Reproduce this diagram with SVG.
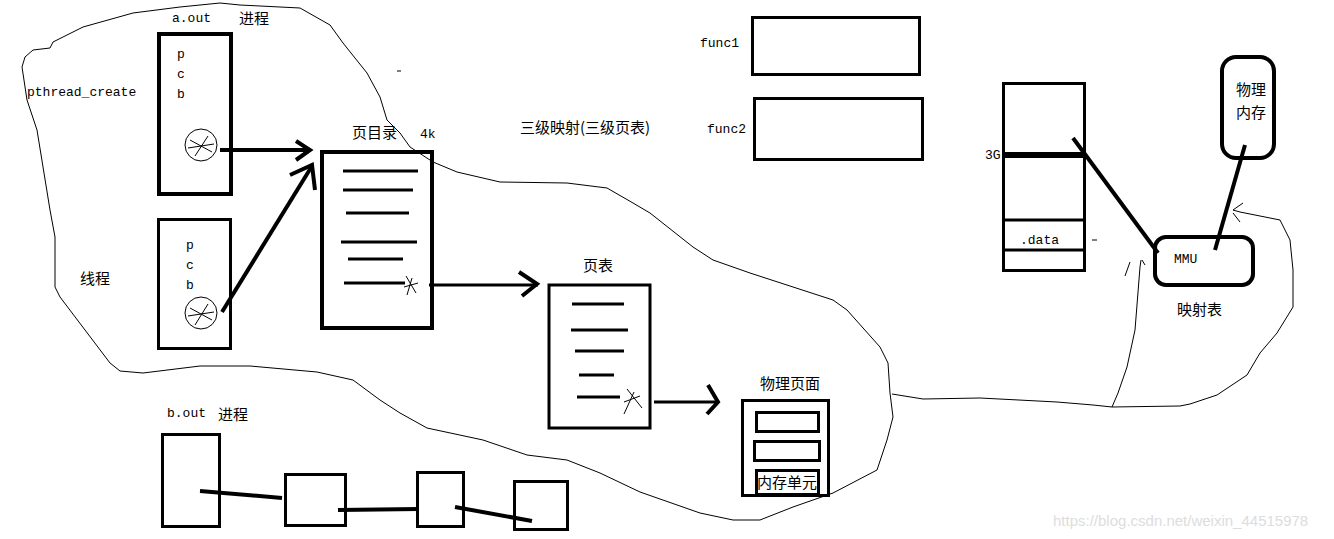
<svg xmlns="http://www.w3.org/2000/svg" width="1334" height="539" viewBox="0 0 1334 539">
<style>
.thin{fill:none;stroke:#000;stroke-width:1}
.box{fill:none;stroke:#000;stroke-width:4}
.box3{fill:none;stroke:#000;stroke-width:3}
.ln{fill:none;stroke:#000;stroke-width:3;stroke-linecap:butt}
.thk{fill:none;stroke:#000;stroke-width:4;stroke-linecap:butt}
.lat{font-family:"Liberation Mono",monospace;font-size:13px;fill:#000}
.cjk{font-family:"Noto Sans CJK SC",sans-serif;font-size:15px;fill:#000}
.wm{font-family:"Liberation Sans",sans-serif;font-size:15px;fill:#ddd}
</style>
<rect width="1334" height="539" fill="#fff"/>
<g id="outline">
<path class="thin" d="M22,67 L25,57 L33,50 L50,48 L53,42 L83,27 L133,13 L180,7 L220,3 L240,5 L300,8 L330,25 L343,43 L367,73 L380,97 L387,120 L400,133 L410,147 L433,162 L457,172 L500,182 L567,183 L607,188 L633,203 L650,213 L693,247 L713,260 L750,273 L833,300 L847,310 L880,347 L888,363 L890,393 L893,417 L887,440 L877,470 L833,493 L793,507 L760,520 L733,520 L700,513 L640,492 L600,473 L567,460 L527,455 L483,440 L427,428 L400,413 L380,400 L353,380 L317,372 L250,366 L200,366 L143,373 L120,371 L110,363 L60,297 L55,287 L55,237 L50,210 L37,130 L27,100 Z"/>
<path class="thin" d="M892,394 L923,399 L980,398 L1057,402 L1093,405 L1112,407 L1180,406 L1190,404 L1217,395 L1247,375 L1260,353 L1277,333 L1293,307 L1293,270 L1290,240 L1280,220 L1240,212 L1233,210"/>
<path class="thin" d="M1233,210 L1243,203 M1233,213 L1240,222"/>
<path class="thin" d="M1112,407 L1118,393 L1127,367 L1135,330 L1140,267 L1141,260"/>
<path class="thin" d="M1125,276 L1130,262 M1142,260 L1145,265"/>
<path class="thin" d="M397,71 L401,71 M1092,240 L1097,240"/>
</g>
<g id="aout">
<text class="lat" x="172" y="22">a.out</text>
<text class="cjk" x="239" y="24">进程</text>
<rect class="box" x="159" y="34" width="72" height="160"/>
<text class="lat" x="177" y="58">p</text>
<text class="lat" x="177" y="78">c</text>
<text class="lat" x="177" y="98">b</text>
<circle class="thin" cx="201" cy="145" r="16"/>
<path class="thin" d="M190,140 L212,152 M195,156 L208,136 M188,148 L214,144"/>
</g>
<g id="pthread">
<text class="lat" x="27" y="96">pthread_create</text>
</g>
<g id="thread">
<text class="cjk" x="80" y="284">线程</text>
<rect class="box3" x="158.5" y="219.5" width="72" height="129"/>
<text class="lat" x="186" y="249">p</text>
<text class="lat" x="186" y="269">c</text>
<text class="lat" x="186" y="289">b</text>
<circle class="thin" cx="201" cy="313" r="16"/>
<path class="thin" d="M190,308 L212,320 M195,325 L208,304 M188,316 L214,312"/>
</g>
<g id="pagedir">
<text class="cjk" x="352" y="138">页目录</text>
<text class="lat" x="420" y="138">4k</text>
<rect class="box" x="322" y="152" width="110" height="176"/>
<path class="ln" d="M343,171 L418,171 M343,190 L413,190 M346,213 L409,213 M341,242 L417,242 M348,259 L403,259 M344,283 L405,283"/>
<path class="thin" d="M406,276 L416,293 M404,287 L418,283 M412,278 L407,295"/>
</g>
<g id="pagetable">
<text class="cjk" x="583" y="271">页表</text>
<rect class="box3" x="549" y="285" width="101" height="143"/>
<path class="ln" d="M572,304 L624,304 M571,330 L628,330 M575,351 L624,351 M579,375 L614,375 M577,397 L620,397"/>
<path class="thin" d="M627,389 L642,408 M624,402 L640,396 M634,392 L624,414"/>
</g>
<g id="physpage">
<text class="cjk" x="760" y="389">物理页面</text>
<rect class="box3" x="742.5" y="400.5" width="86" height="95"/>
<rect class="box3" x="756.5" y="412.5" width="62" height="19"/>
<rect class="box3" x="754.5" y="441.5" width="65" height="19"/>
<rect class="box3" x="756.5" y="470.5" width="62" height="24"/>
<text class="cjk" x="757" y="488" font-size="16">内存单元</text>
</g>
<g id="func">
<text class="lat" x="700" y="47">func1</text>
<rect class="box3" x="752.5" y="17.5" width="167" height="57"/>
<text class="lat" x="707" y="133">func2</text>
<rect class="box3" x="754.5" y="98.5" width="168" height="61"/>
<text class="cjk" x="520" y="133">三级映射(三级页表)</text>
</g>
<g id="vmem">
<rect class="box3" x="1003.5" y="83.5" width="81" height="187"/>
<rect x="1003" y="152" width="82" height="6" fill="#000"/>
<path class="ln" d="M1003,220 L1085,220 M1003,250 L1085,250"/>
<text class="lat" x="985" y="159" font-size="12">3G</text>
<text class="lat" x="1020" y="244">.data</text>
</g>
<g id="mmu">
<rect class="box" x="1155" y="237" width="98" height="48" rx="11"/>
<text class="lat" x="1174" y="263" font-size="12">MMU</text>
<text class="cjk" x="1177" y="315">映射表</text>
</g>
<g id="physmem">
<rect class="box" x="1222" y="57" width="52" height="101" rx="14"/>
<text class="cjk" x="1236" y="95">物理</text>
<text class="cjk" x="1236" y="118">内存</text>
</g>
<g id="bout">
<text class="lat" x="167" y="417">b.out</text>
<text class="cjk" x="218" y="420">进程</text>
<rect class="box3" x="162.5" y="434.5" width="57" height="92"/>
<rect class="box3" x="285.5" y="474.5" width="60" height="51"/>
<rect class="box3" x="417.5" y="472.5" width="46" height="54"/>
<rect class="box3" x="514.5" y="481.5" width="53" height="48"/>
</g>
<g id="connectors">
<path class="thk" d="M220,150 L308,150"/>
<path class="thk" d="M296,141 L310,150 L296,160"/>
<path class="thk" d="M222,312 L312,166"/>
<path class="thk" d="M290,175 L312,165 L315,190"/>
<path class="ln" d="M429,285 L538,285"/>
<path class="thk" d="M519,272 L537,284 L522,296"/>
<path class="ln" d="M654,402 L718,402"/>
<path class="thk" d="M708,385 L718,402 L707,414"/>
<path class="thk" d="M1073,138 L1158,253"/>
<path class="thk" d="M1215,250 L1245,145"/>
<path class="thk" d="M200,491 L282,498"/>
<path class="thk" d="M338,510 L419,509"/>
<path class="thk" d="M455,507 L532,521"/>
</g>
<text class="wm" x="1053" y="526">https://blog.csdn.net/weixin_44515978</text>
</svg>
